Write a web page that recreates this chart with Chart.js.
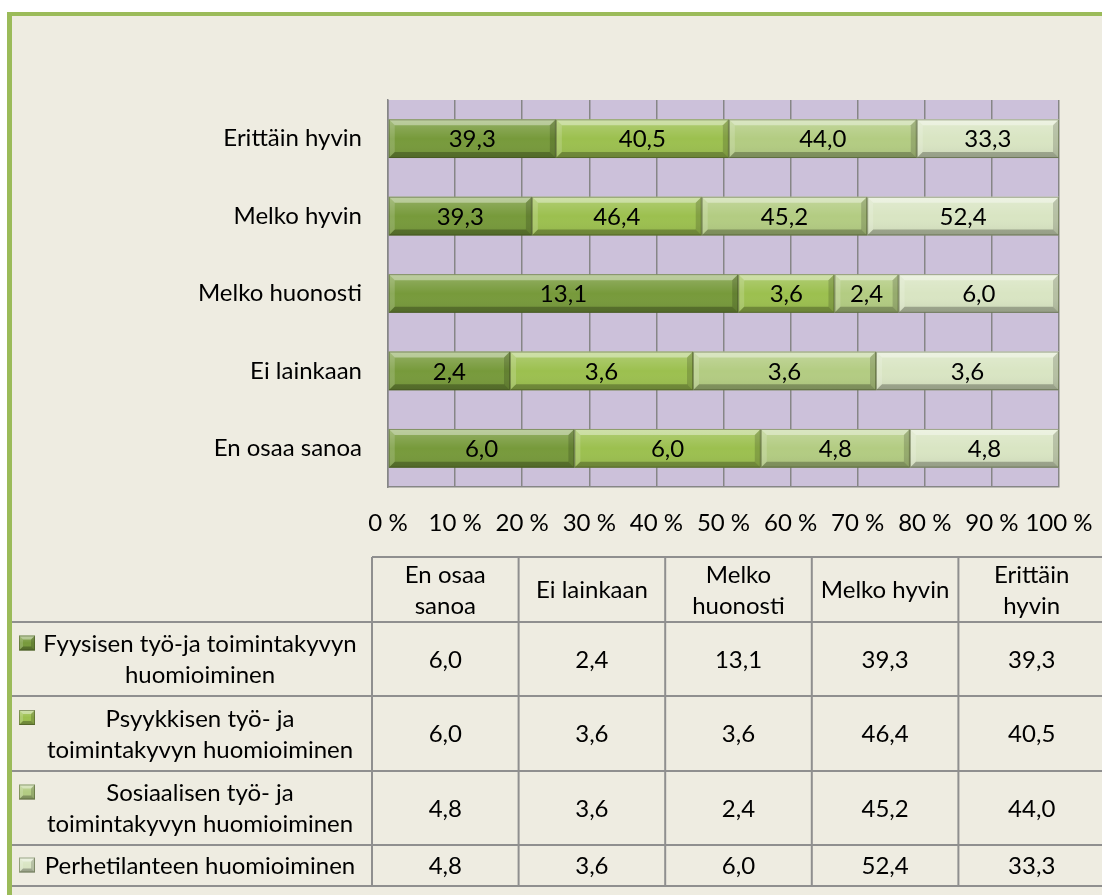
<!DOCTYPE html>
<html>
<head>
<meta charset="utf-8">
<script src="https://cdn.jsdelivr.net/npm/chart.js@4.4.1/dist/chart.umd.min.js"></script>
<style>
  html, body { margin: 0; padding: 0; background: #fff; }
  #wrap { width: 1102px; height: 895px; }
</style>
</head>
<body>
<div id="wrap"><canvas id="myChart" width="1102" height="895"></canvas></div>
<script>
// categories (data order, first one ends up at the bottom like in Excel)
const categories = ['En osaa sanoa', 'Ei lainkaan', 'Melko huonosti', 'Melko hyvin', 'Erittäin hyvin'];

// series names, split the way the data table shows them
const seriesLines = [
  ['Fyysisen työ-ja toimintakyvyn', 'huomioiminen'],
  ['Psyykkisen työ- ja', 'toimintakyvyn huomioiminen'],
  ['Sosiaalisen työ- ja', 'toimintakyvyn huomioiminen'],
  ['Perhetilanteen huomioiminen']
];
const seriesNames = seriesLines.map(l => l.join(' '));

// values per series
const fyysinen = [6.0, 2.4, 13.1, 39.3, 39.3];
const psyykkinen = [6.0, 3.6, 3.6, 46.4, 40.5];
const sosiaalinen = [4.8, 3.6, 2.4, 45.2, 44.0];
const perhe = [4.8, 3.6, 6.0, 52.4, 33.3];
const seriesValues = [fyysinen, psyykkinen, sosiaalinen, perhe];

// x axis ticks (percent)
const xTicks = [0, 10, 20, 30, 40, 50, 60, 70, 80, 90, 100];

const colors = ['#779a3b', '#9cc04f', '#b3cc82', '#d9e5c3'];
const fmt = v => v.toFixed(1).replace('.', ',');
const FONT = '24px Lato, Carlito, sans-serif';

// 100 % stacked -> normalise each category
const totals = categories.map((c, i) => seriesValues.reduce((s, arr) => s + arr[i], 0));
const percents = seriesValues.map(arr => arr.map((v, i) => v / totals[i] * 100));

Chart.defaults.font.family = 'Lato, Carlito, sans-serif';
Chart.defaults.font.size = 24;
Chart.defaults.color = '#000';

// frame, background and plot fill
const backgroundPlugin = {
  id: 'bg',
  beforeDraw(chart) {
    const ctx = chart.ctx;
    const a = chart.chartArea;
    ctx.save();
    ctx.fillStyle = '#fff';
    ctx.fillRect(0, 0, chart.width, chart.height);
    ctx.fillStyle = '#9bbb59';
    ctx.fillRect(7, 12, chart.width, chart.height);
    ctx.fillStyle = '#eeece1';
    ctx.fillRect(12, 16, chart.width, chart.height);
    ctx.fillStyle = '#ccc1da';
    ctx.fillRect(a.left, a.top, a.right - a.left, a.bottom - a.top);
    ctx.restore();
  }
};

function bevel(ctx, l, t, r, b, s) {
  // face shading
  const g = ctx.createLinearGradient(0, t, 0, b);
  g.addColorStop(0, 'rgba(255,255,255,0.22)');
  g.addColorStop(0.5, 'rgba(255,255,255,0.0)');
  g.addColorStop(1, 'rgba(0,0,0,0.08)');
  ctx.fillStyle = g;
  ctx.fillRect(l, t, r - l, b - t);
  const quad = (pts, c) => {
    ctx.beginPath();
    ctx.moveTo(pts[0], pts[1]);
    for (let i = 2; i < pts.length; i += 2) ctx.lineTo(pts[i], pts[i + 1]);
    ctx.closePath();
    ctx.fillStyle = c;
    ctx.fill();
  };
  quad([l, t, r, t, r - s, t + s, l + s, t + s], 'rgba(255,255,255,0.38)');
  quad([l, t, l + s, t + s, l + s, b - s, l, b], 'rgba(255,255,255,0.16)');
  quad([r, t, r, b, r - s, b - s, r - s, t + s], 'rgba(0,0,0,0.16)');
  quad([l, b, l + s, b - s, r - s, b - s, r, b], 'rgba(0,0,0,0.26)');
  ctx.strokeStyle = 'rgba(60,70,30,0.45)';
  ctx.lineWidth = 1;
  ctx.strokeRect(l + 0.5, t + 0.5, r - l - 1, b - t - 1);
}

// bevel look + value labels inside bars
const barPlugin = {
  id: 'bars',
  afterDatasetsDraw(chart) {
    const ctx = chart.ctx;
    ctx.save();
    chart.data.datasets.forEach((ds, di) => {
      const meta = chart.getDatasetMeta(di);
      meta.data.forEach((bar, i) => {
        const p = bar.getProps(['x', 'y', 'base', 'height'], true);
        const l = Math.min(p.x, p.base), r = Math.max(p.x, p.base);
        const t = p.y - p.height / 2, b = p.y + p.height / 2;
        bevel(ctx, l, t, r, b, 6);
        ctx.fillStyle = '#000';
        ctx.font = FONT;
        ctx.textAlign = 'center';
        ctx.textBaseline = 'middle';
        ctx.fillText(fmt(seriesValues[di][i]), (l + r) / 2, p.y + 1);
      });
    });
    ctx.restore();
  }
};

// data table under the chart
const tablePlugin = {
  id: 'table',
  afterDraw(chart) {
    const ctx = chart.ctx;
    const left = 12, firstCol = 372, colW = 146.6, right = firstCol + colW * categories.length;
    const rows = [557, 622, 696, 771, 845, 886];
    const lh = 31;
    ctx.save();
    ctx.strokeStyle = '#8f8f8f';
    ctx.lineWidth = 2;
    ctx.beginPath();
    ctx.moveTo(firstCol, rows[0]); ctx.lineTo(right, rows[0]);
    for (let k = 1; k < rows.length; k++) { ctx.moveTo(left, rows[k]); ctx.lineTo(right, rows[k]); }
    for (let c = 0; c <= categories.length; c++) {
      const x = firstCol + c * colW;
      ctx.moveTo(x, rows[0]); ctx.lineTo(x, rows[rows.length - 1]);
    }
    ctx.stroke();

    ctx.fillStyle = '#000';
    ctx.font = FONT;
    ctx.textAlign = 'center';
    ctx.textBaseline = 'middle';
    const wrap = (txt, maxW) => {
      const words = txt.split(' ');
      const lines = [];
      let cur = '';
      words.forEach(w => {
        const test = cur ? cur + ' ' + w : w;
        if (cur && ctx.measureText(test).width > maxW) { lines.push(cur); cur = w; } else cur = test;
      });
      lines.push(cur);
      return lines;
    };
    const drawLines = (lines, cx, cy) => {
      const y0 = cy - (lines.length - 1) * lh / 2;
      lines.forEach((ln, k) => ctx.fillText(ln, cx, y0 + k * lh + 1));
    };
    // header
    const hc = (rows[0] + rows[1]) / 2;
    categories.forEach((c, ci) => {
      drawLines(wrap(c, 131), firstCol + colW * (ci + 0.5), hc);
    });
    // rows
    seriesLines.forEach((lines, si) => {
      const cy = (rows[si + 1] + rows[si + 2]) / 2;
      drawLines(lines, 200, cy);
      seriesValues[si].forEach((v, ci) => {
        ctx.fillText(fmt(v), firstCol + colW * (ci + 0.5), cy + 1);
      });
      // legend key
      const ky = cy - (lines.length - 1) * lh / 2;
      ctx.fillStyle = colors[si];
      ctx.fillRect(19, ky - 8, 16, 15);
      bevel(ctx, 19, ky - 8, 35, ky + 7, 4);
      ctx.fillStyle = '#000';
    });
    ctx.restore();
  }
};

const ctx = document.getElementById('myChart').getContext('2d');
const myChart = new Chart(ctx, {
  type: 'bar',
  data: {
    labels: categories,
    datasets: seriesNames.map((name, i) => ({
      label: name,
      data: percents[i],
      backgroundColor: colors[i],
      borderWidth: 0,
      barPercentage: 0.5,
      categoryPercentage: 1
    }))
  },
  options: {
    indexAxis: 'y',
    responsive: false,
    devicePixelRatio: 1,
    animation: false,
    layout: { padding: { left: 0, top: 100, right: 43, bottom: 348 } },
    plugins: {
      legend: { display: false },
      tooltip: { enabled: false }
    },
    scales: {
      x: {
        stacked: true,
        min: 0,
        max: 100,
        afterBuildTicks: scale => { scale.ticks = xTicks.map(v => ({ value: v })); },
        afterFit: scale => { scale.height = 60; scale.paddingLeft = 0; scale.paddingRight = 0; },
        ticks: { padding: 22, maxRotation: 0, autoSkip: false, callback: v => v + ' %' },
        grid: { color: '#868686', lineWidth: 1.5, drawTicks: false },
        border: { color: '#868686', width: 1.5 }
      },
      y: {
        stacked: true,
        reverse: true,
        afterFit: scale => { scale.width = 388; scale.paddingTop = 0; scale.paddingBottom = 0; },
        ticks: { padding: 26 },
        grid: { display: false, drawTicks: false },
        border: { color: '#868686', width: 1.5 }
      }
    }
  },
  plugins: [backgroundPlugin, barPlugin, tablePlugin]
});
</script>
</body>
</html>
